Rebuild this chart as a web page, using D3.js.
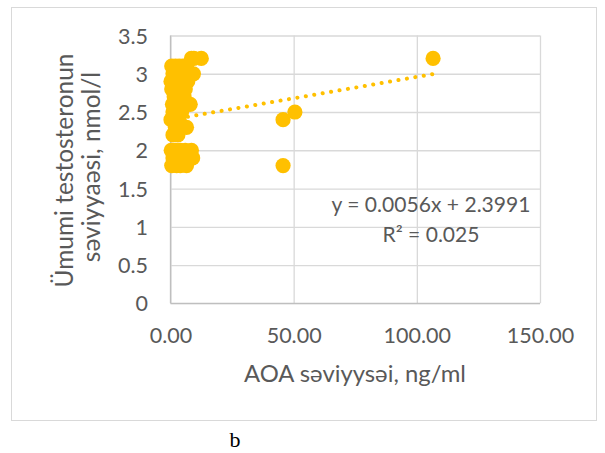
<!DOCTYPE html>
<html>
<head>
<meta charset="utf-8">
<script src="https://cdn.jsdelivr.net/npm/d3@7"></script>
<style>
  html, body { margin: 0; padding: 0; background: #ffffff; }
  svg { display: block; }
</style>
</head>
<body>
<svg id="chart" width="605" height="453"></svg>
<script>
// ---- data ----
const aoaValues = [
  8.5, 9.5, 12.5,
  0.5, 2, 3.5, 5, 6.5,
  1, 3, 5.5, 7.5, 9.3,
  0.2, 1.5, 3, 5, 7,
  0.5, 2, 4, 6,
  1.5, 3.5, 5.5,
  0.8, 2.5, 4.5, 6.5, 8,
  1, 3, 4.5,
  0.2, 1.5, 3.5,
  2, 6.5,
  1, 3,
  0.3, 2, 4, 6, 8.5,
  1, 3, 5, 7.5, 9,
  0.5, 2.5, 4, 6.5,
  45.7, 50.5, 45.7, 106.6
];
const testosteroneValues = [
  3.2, 3.2, 3.2,
  3.1, 3.1, 3.1, 3.1, 3.1,
  3.0, 3.0, 3.0, 3.0, 3.0,
  2.9, 2.9, 2.9, 2.9, 2.9,
  2.8, 2.8, 2.8, 2.8,
  2.7, 2.7, 2.7,
  2.6, 2.6, 2.6, 2.6, 2.6,
  2.5, 2.5, 2.5,
  2.4, 2.4, 2.4,
  2.3, 2.3,
  2.2, 2.2,
  2.0, 2.0, 2.0, 2.0, 2.0,
  1.9, 1.9, 1.9, 1.9, 1.9,
  1.8, 1.8, 1.8, 1.8,
  2.4, 2.5, 1.8, 3.2
];
const trendSlope = 0.0056;
const trendIntercept = 2.3991;
const equationLines = ["y = 0.0056x + 2.3991", "R\u00B2 = 0.025"];
const xTicks = [0, 50, 100, 150];
const yTicks = [0, 0.5, 1, 1.5, 2, 2.5, 3, 3.5];
const xTitle = "AOA səviyysəi, ng/ml";
const yTitleLines = ["Ümumi testosteronun", "səviyyaəsi, nmol/l"];
const caption = "b";

// ---- drawing ----
const svg = d3.select("#chart");
const FONT = "Lato, 'Open Sans', 'Liberation Sans', sans-serif";
const TXT = "#595959";
const GOLD = "#FFC000";

// fit a text element's font size so its rendered length matches a target width
function fitWidth(sel, target) {
  const node = sel.node();
  const fs = parseFloat(sel.attr("font-size"));
  const len = node.getComputedTextLength();
  if (len > 0) sel.attr("font-size", (fs * target / len).toFixed(2));
  return sel;
}

svg.append("rect")
  .attr("x", 11.5).attr("y", 7.5).attr("width", 585).attr("height", 413)
  .attr("fill", "#fff").attr("stroke", "#d9d9d9").attr("stroke-width", 1);

const x = d3.scaleLinear().domain([0, 150]).range([170.5, 540]);
const y = d3.scaleLinear().domain([0, 3.5]).range([303.3, 35.5]);

// gridlines + tick labels
const gx = svg.append("g").attr("transform", `translate(0,${y(0)})`)
  .call(d3.axisBottom(x).tickValues(xTicks).tickSize(-(y(0) - y(3.5))).tickFormat(d3.format(".2f")));
gx.select(".domain").remove();
gx.selectAll(".tick line").attr("stroke", "#d9d9d9").attr("stroke-width", 1.3);
gx.selectAll(".tick text")
  .attr("y", 0).attr("dy", 0)
  .attr("transform", "translate(0,39.5)")
  .attr("fill", TXT).attr("font-family", FONT).attr("font-size", 21.5);

const gy = svg.append("g").attr("transform", `translate(${x(0)},0)`)
  .call(d3.axisLeft(y).tickValues(yTicks).tickSize(-(x(150) - x(0))).tickFormat(d3.format("")));
gy.select(".domain").remove();
gy.selectAll(".tick line").attr("stroke", "#d9d9d9").attr("stroke-width", 1.3);
gy.selectAll(".tick text")
  .attr("x", 0).attr("dy", 0)
  .attr("transform", "translate(-22.5,7.5)")
  .attr("text-anchor", "end")
  .attr("fill", TXT).attr("font-family", FONT).attr("font-size", 21.5);

// axis lines
svg.append("line").attr("x1", x(0)).attr("x2", x(150)).attr("y1", y(0)).attr("y2", y(0))
  .attr("stroke", "#bfbfbf").attr("stroke-width", 1.3);
svg.append("line").attr("x1", x(0)).attr("x2", x(0)).attr("y1", y(0)).attr("y2", y(3.5))
  .attr("stroke", "#bfbfbf").attr("stroke-width", 1.3);

// points
const pts = aoaValues.map((v, i) => ({ x: v, y: testosteroneValues[i] }));
svg.append("g").selectAll("circle").data(pts).join("circle")
  .attr("cx", d => x(d.x)).attr("cy", d => y(d.y)).attr("r", 7.6)
  .attr("fill", GOLD);

// trendline
const xmin = d3.min(aoaValues), xmax = d3.max(aoaValues);
svg.append("line")
  .attr("x1", x(xmin)).attr("y1", y(trendSlope * xmin + trendIntercept))
  .attr("x2", x(xmax)).attr("y2", y(trendSlope * xmax + trendIntercept))
  .attr("stroke", GOLD).attr("stroke-width", 4).attr("stroke-linecap", "round")
  .attr("stroke-dasharray", "0.1 8.45");

// equation
const eq1 = svg.append("text").attr("x", 431).attr("y", 212)
  .attr("text-anchor", "middle").attr("fill", TXT).attr("font-family", FONT).attr("font-size", 21)
  .text(equationLines[0]);
fitWidth(eq1, 199);
svg.append("text").attr("x", 431).attr("y", 241.5)
  .attr("text-anchor", "middle").attr("fill", TXT).attr("font-family", FONT).attr("font-size", eq1.attr("font-size"))
  .text(equationLines[1]);

// axis titles
const xt = svg.append("text").attr("x", 355).attr("y", 382)
  .attr("text-anchor", "middle").attr("fill", TXT).attr("font-family", FONT).attr("font-size", 21)
  .text(xTitle);
fitWidth(xt, 222);

const yTitlePos = [{ bx: 73, cy: 170.5, w: 234 }, { bx: 100, cy: 167, w: 180 }];
const yt0 = svg.append("text")
  .attr("transform", `translate(${yTitlePos[0].bx},${yTitlePos[0].cy}) rotate(-90)`)
  .attr("text-anchor", "middle").attr("fill", TXT).attr("font-family", FONT).attr("font-size", 21)
  .text(yTitleLines[0]);
fitWidth(yt0, yTitlePos[0].w);
svg.append("text")
  .attr("transform", `translate(${yTitlePos[1].bx},${yTitlePos[1].cy}) rotate(-90)`)
  .attr("text-anchor", "middle").attr("fill", TXT).attr("font-family", FONT).attr("font-size", yt0.attr("font-size"))
  .text(yTitleLines[1]);

// caption
svg.append("text").attr("x", 235).attr("y", 447)
  .attr("text-anchor", "middle").attr("fill", "#000").attr("font-family", "'Liberation Serif', 'Times New Roman', serif")
  .attr("font-size", 22).text(caption);
</script>
</body>
</html>
